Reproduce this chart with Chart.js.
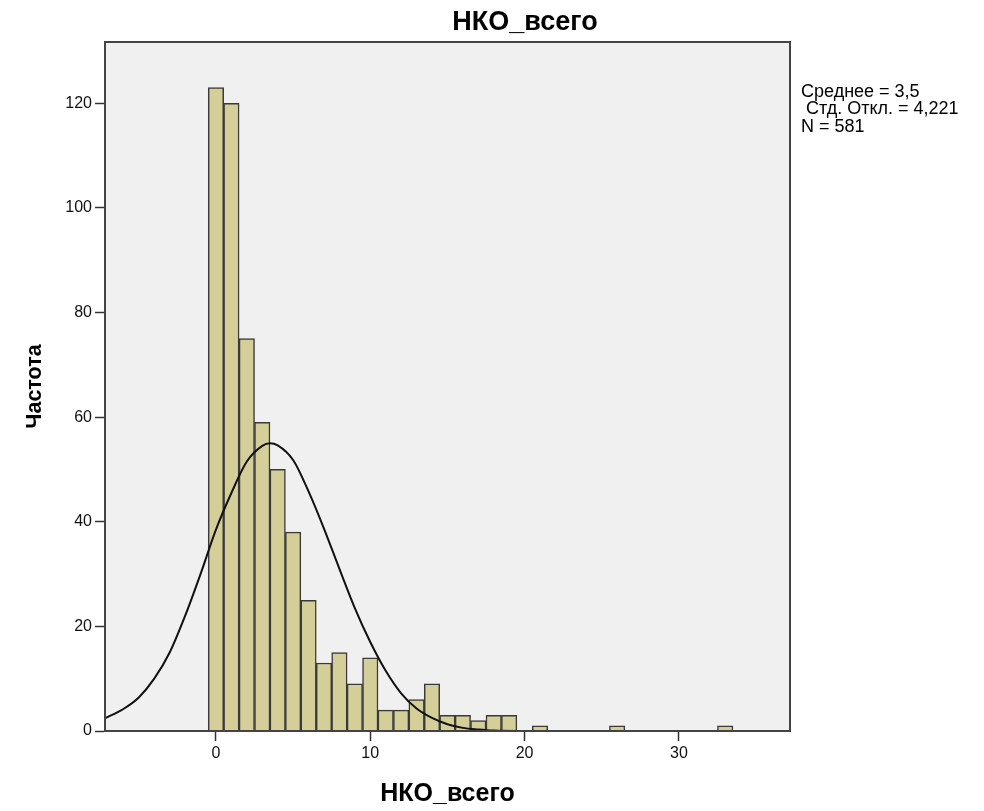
<!DOCTYPE html>
<html>
<head>
<meta charset="utf-8">
<script src="https://cdn.jsdelivr.net/npm/chart.js@4"></script>
<style>
  html, body { margin: 0; padding: 0; background: #fff; }
  #wrap { width: 984px; height: 811px; }
</style>
</head>
<body>
<div id="wrap"><canvas id="histChart" width="984" height="811"></canvas></div>
<script>
// histogram bins (centre of each bin, width 1) and their counts
const binValues = [0, 1, 2, 3, 4, 5, 6, 7, 8, 9, 10, 11, 12, 13, 14, 15, 16, 17, 18, 19, 21, 26, 33];
const binCounts = [123, 120, 75, 59, 50, 38, 25, 13, 15, 9, 14, 4, 4, 6, 9, 3, 3, 2, 3, 3, 1, 1, 1];

// normal curve, points
const curveX = [-7.2, -6, -5, -4, -3, -2, -1, 0, 1, 2, 3, 3.5, 4, 5, 6, 7, 8, 9, 10, 11, 12, 13, 14, 15, 16, 17, 18, 20, 25, 37.2];
const curveY = [2.4, 4.2, 6.4, 10.0, 15.0, 22.0, 30.0, 38.5, 45.5, 51.5, 54.5, 55.0, 54.6, 51.8, 45.8, 38.7, 31.0, 23.5, 17.0, 11.5, 7.2, 4.3, 2.5, 1.3, 0.6, 0.3, 0.1, 0.02, 0, 0];

const xTicks = [0, 10, 20, 30];
const yTicks = [0, 20, 40, 60, 80, 100, 120];

const chartTitle = "НКО_всего";
const xTitle = "НКО_всего";
const yTitle = "Частота";
const statsLines = ["Среднее = 3,5", " Стд. Откл. = 4,221", "N = 581"];

const FONT = "'Liberation Sans', Arial, sans-serif";

let plotBackground = {
  id: "plotBackground",
  beforeDraw(chart) {
    const { ctx, chartArea: a } = chart;
    ctx.save();
    ctx.fillStyle = "#f0f0f0";
    ctx.fillRect(a.left, a.top, a.right - a.left, a.bottom - a.top);
    ctx.restore();
  },
  afterDraw(chart) {
    const { ctx, chartArea: a } = chart;
    ctx.save();
    // frame
    ctx.strokeStyle = "#444";
    ctx.lineWidth = 2;
    ctx.strokeRect(a.left, a.top, a.right - a.left, a.bottom - a.top);
    // title
    ctx.fillStyle = "#000";
    ctx.font = "bold 27px " + FONT;
    ctx.textAlign = "center";
    ctx.textBaseline = "middle";
    ctx.fillText(chartTitle, 525, 23);
    // stats box text
    ctx.font = "18px " + FONT;
    ctx.textAlign = "left";
    statsLines.forEach((s, i) => ctx.fillText(s, 801, 92 + i * 17.5));
    ctx.restore();
  }
};

let plotHistogram = () => {
  const ctx = document.getElementById("histChart");
  const dataset = {
    datasets: [
      {
        type: "bar",
        data: binValues.map((x, i) => ({ x: x, y: binCounts[i] })),
        backgroundColor: "#d4cf98",
        borderColor: "#3a3a3a",
        borderWidth: 1.5,
        barPercentage: 1,
        categoryPercentage: 1,
        order: 2
      },
      {
        type: "line",
        data: curveX.map((x, i) => ({ x: x, y: curveY[i] })),
        borderColor: "#111",
        borderWidth: 2,
        pointRadius: 0,
        cubicInterpolationMode: "monotone",
        fill: false,
        order: 1
      }
    ]
  };
  const config = {
    type: "bar",
    data: dataset,
    options: {
      responsive: false,
      animation: false,
      layout: { padding: { top: 42, right: 194, left: 0, bottom: 0 } },
      plugins: { legend: { display: false }, tooltip: { enabled: false } },
      scales: {
        x: {
          type: "linear",
          offset: false,
          min: -7.19,
          max: 37.2,
          afterBuildTicks: (s) => { s.ticks = xTicks.map(v => ({ value: v })); },
          afterFit: (s) => { s.height = 80; },
          grid: { offset: false, drawOnChartArea: false, drawTicks: true, tickLength: 10, tickColor: "#333", tickWidth: 1.5 },
          border: { display: true, color: "#333", width: 2 },
          ticks: { color: "#111", font: { family: FONT, size: 16 }, padding: 3, maxRotation: 0 },
          title: { display: true, text: xTitle, color: "#000", font: { family: FONT, size: 25, weight: "bold" }, padding: { top: 0, bottom: 2 } }
        },
        y: {
          min: 0,
          max: 131.7,
          afterBuildTicks: (s) => { s.ticks = yTicks.map(v => ({ value: v })); },
          afterFit: (s) => { s.width = 105; },
          grid: { drawOnChartArea: false, drawTicks: true, tickLength: 10, tickColor: "#333", tickWidth: 1.5 },
          border: { display: true, color: "#333", width: 2 },
          ticks: { color: "#111", font: { family: FONT, size: 16 }, padding: 3 },
          title: { display: true, text: yTitle, color: "#000", font: { family: FONT, size: 21.5, weight: "bold" }, padding: { top: 22, bottom: 0 } }
        }
      }
    },
    plugins: [plotBackground]
  };
  const chart = new Chart(ctx, config);
};

plotHistogram();
</script>
</body>
</html>
